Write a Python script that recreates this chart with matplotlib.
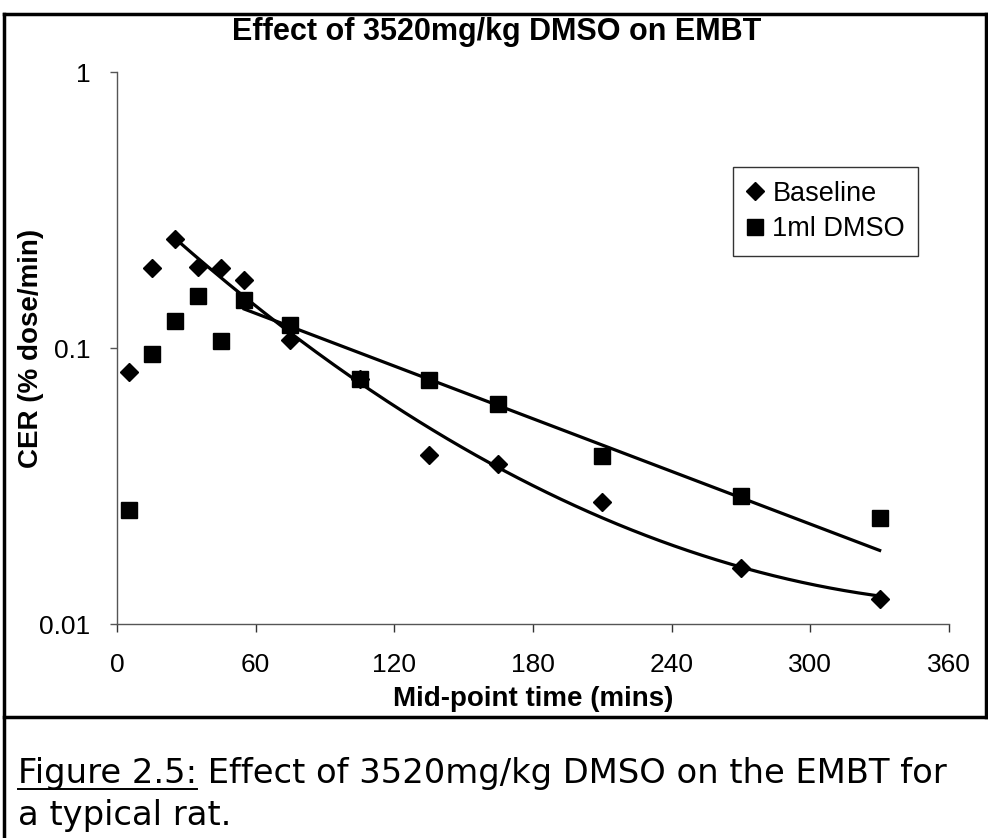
import numpy as np
import matplotlib
matplotlib.use("Agg")
import matplotlib.pyplot as plt
from matplotlib.lines import Line2D
from matplotlib.ticker import FixedLocator, FixedFormatter, NullLocator

# ---- data ----
times = [5, 15, 25, 35, 45, 55, 75, 105, 135, 165, 210, 270, 330]
baseline = [0.082, 0.195, 0.248, 0.196, 0.195, 0.176, 0.107, 0.077, 0.041, 0.038, 0.0277, 0.016, 0.0123]
dmso = [0.0259, 0.095, 0.125, 0.154, 0.106, 0.149, 0.121, 0.077, 0.0765, 0.0626, 0.0407, 0.0291, 0.0242]

# trend lines
base_trend_t = [25, 55, 75, 105, 135, 165, 210, 230, 252, 270, 330]
base_trend_v = [0.248, 0.149, 0.118, 0.0773, 0.050, 0.0367, 0.0244, 0.0205, 0.0178, 0.0161, 0.0127]
dmso_trend_t = [55, 75, 105, 135, 165, 210, 270, 330]
dmso_trend_v = [0.135, 0.124, 0.095, 0.0766, 0.0627, 0.0442, 0.0286, 0.0185]

xticks = [0, 60, 120, 180, 240, 300, 360]
yticks = [0.01, 0.1, 1]
ytick_labels = ["0.01", "0.1", "1"]

title = "Effect of 3520mg/kg DMSO on EMBT"
xlabel = "Mid-point time (mins)"
ylabel = "CER (% dose/min)"
series_names = ["Baseline", "1ml DMSO"]
caption_head = "Figure 2.5:"
caption_rest = " Effect of 3520mg/kg DMSO on the EMBT for"
caption_line2 = "a typical rat."

W, H = 988, 838
fig = plt.figure(figsize=(W / 100, H / 100), dpi=100)
fig.patch.set_facecolor("white")

ax = fig.add_axes([117 / W, 1 - 624 / H, (949 - 117) / W, (624 - 72) / H])
ax.set_yscale("log")
ax.set_xlim(0, 360)
ax.set_ylim(0.01, 1)

# smooth trend curves fitted through read trend points
tb = np.linspace(base_trend_t[0], base_trend_t[-1], 200)
cb = np.polyfit(base_trend_t, np.log10(base_trend_v), 2)
ax.plot(tb, 10 ** np.polyval(cb, tb), color="black", lw=2.3, zorder=2)
td = np.linspace(dmso_trend_t[0], dmso_trend_t[-1], 200)
cd = np.polyfit(dmso_trend_t, np.log10(dmso_trend_v), 1)
ax.plot(td, 10 ** np.polyval(cd, td), color="black", lw=2.3, zorder=2)

ax.plot(times, baseline, linestyle="none", marker="D", markersize=8.8,
        color="black", label=series_names[0], zorder=3)
ax.plot(times, dmso, linestyle="none", marker="s", markersize=11.5,
        color="black", label=series_names[1], zorder=4)

for s in ["top", "right"]:
    ax.spines[s].set_visible(False)
for s in ["left", "bottom"]:
    ax.spines[s].set_color("#555555")
    ax.spines[s].set_linewidth(1.0)

ax.xaxis.set_major_locator(FixedLocator(xticks))
ax.set_xticklabels([str(v) for v in xticks])
ax.yaxis.set_major_locator(FixedLocator(yticks))
ax.yaxis.set_major_formatter(FixedFormatter(ytick_labels))
ax.yaxis.set_minor_locator(NullLocator())

for lab in ax.get_xticklabels() + ax.get_yticklabels():
    lab.set_fontfamily("Liberation Sans")
    lab.set_fontsize(19)
ax.tick_params(axis="x", direction="out", length=6, width=1, color="#333333", pad=15)
ax.tick_params(axis="y", direction="out", length=5, width=1, color="#555555", pad=14)

ax.set_xlabel(xlabel, fontfamily="Liberation Sans", fontweight="bold", fontsize=20)
ax.xaxis.set_label_coords(0.5, (624 - 686) / 552)
ax.set_ylabel(ylabel, fontfamily="Liberation Sans", fontweight="bold", fontsize=20)
ax.yaxis.set_label_coords((44 - 117) / 832, 0.5)

fig.text(497 / W, 1 - 32 / H, title, ha="center", va="center",
         fontfamily="Liberation Sans", fontweight="bold", fontsize=22)

leg = ax.legend(loc="upper left", bbox_to_anchor=((733 - 117) / (949 - 117), 1 - (167 - 72) / (624 - 72)),
                frameon=True, fancybox=False, edgecolor="#333333", framealpha=1,
                prop=dict(family="Liberation Sans", size=19.5), handlelength=0.6,
                handletextpad=0.35, borderpad=0.5, labelspacing=0.35, borderaxespad=0)
leg.get_frame().set_linewidth(1.0)

# figure frame
lw = 2.5
fig.add_artist(Line2D([4 / W, 4 / W], [0, 1 - 14 / H], color="black", lw=lw))
fig.add_artist(Line2D([4 / W, 1], [1 - 14 / H, 1 - 14 / H], color="black", lw=lw))
fig.add_artist(Line2D([986 / W, 986 / W], [1 - 14 / H, 1 - 717 / H], color="black", lw=lw))
fig.add_artist(Line2D([4 / W, 1], [1 - 717 / H, 1 - 717 / H], color="black", lw=lw))

# caption
t1 = fig.text(18 / W, 1 - 773 / H, caption_head, ha="left", va="center",
              fontfamily="DejaVu Sans", fontsize=24.3)
fig.canvas.draw()
bb = t1.get_window_extent()
fig.add_artist(Line2D([bb.x0 / W, bb.x1 / W], [(bb.y0 + 1) / H, (bb.y0 + 1) / H], color="black", lw=1.4))
fig.text(bb.x1 / W, 1 - 773 / H, caption_rest, ha="left", va="center",
         fontfamily="DejaVu Sans", fontsize=24.3)
fig.text(18 / W, 1 - 815 / H, caption_line2, ha="left", va="center",
         fontfamily="DejaVu Sans", fontsize=24.3)

fig.savefig("out.png", dpi=100)
